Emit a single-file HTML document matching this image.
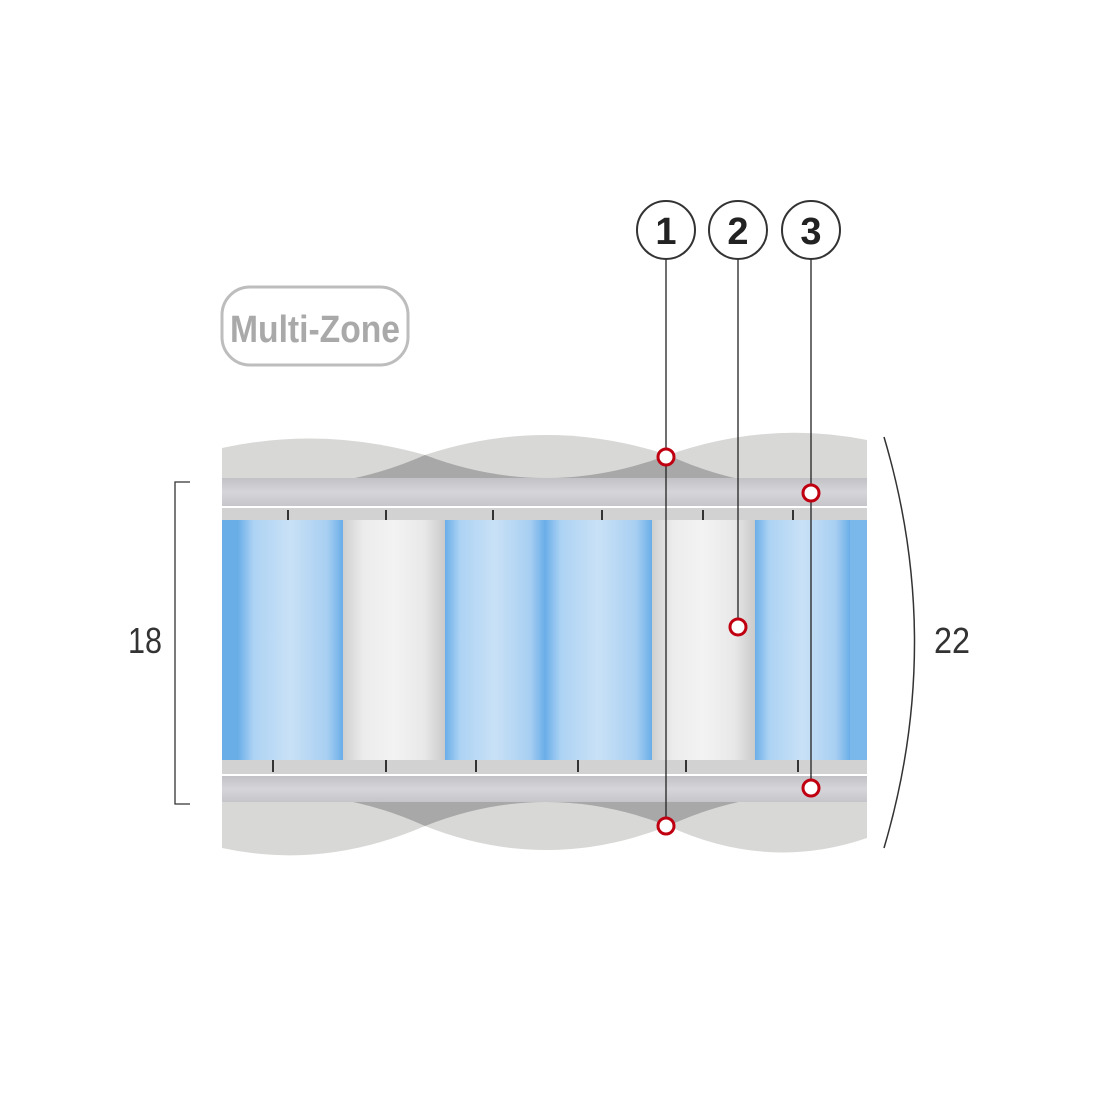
<!DOCTYPE html>
<html><head><meta charset="utf-8"><style>
html,body{margin:0;padding:0;background:#fff}
svg{display:block}
</style></head><body>
<svg width="1100" height="1100" viewBox="0 0 1100 1100" xmlns="http://www.w3.org/2000/svg">
<defs>
<linearGradient id="blue" x1="0" x2="1" y1="0" y2="0">
<stop offset="0" stop-color="#6aaee8"/><stop offset="0.15" stop-color="#add3f4"/><stop offset="0.5" stop-color="#c9e1f6"/><stop offset="0.85" stop-color="#a8cff2"/><stop offset="1" stop-color="#6aaee8"/>
</linearGradient>
<linearGradient id="white" x1="0" x2="1" y1="0" y2="0">
<stop offset="0" stop-color="#cfcfcf"/><stop offset="0.2" stop-color="#ececec"/><stop offset="0.5" stop-color="#f3f3f3"/><stop offset="0.8" stop-color="#e8e8e8"/><stop offset="1" stop-color="#cacaca"/>
</linearGradient>
<linearGradient id="felt" x1="0" x2="0" y1="0" y2="1">
<stop offset="0" stop-color="#c2c2c6"/><stop offset="0.5" stop-color="#d6d6da"/><stop offset="1" stop-color="#c6c6ca"/>
</linearGradient>
</defs>
<rect x="222" y="287" width="186" height="78" rx="28" fill="#fff" stroke="#bdbdbd" stroke-width="3"/>
<text x="315" y="342" text-anchor="middle" font-family="Liberation Sans, sans-serif" font-weight="bold" font-size="38" fill="#a9a9a9" textLength="170" lengthAdjust="spacingAndGlyphs">Multi-Zone</text>

<!-- top pillows -->
<rect x="222" y="455" width="645" height="24" fill="#a8a8a8"/>
<path d="M222,448 Q323,426 425,455 Q323,500 222,478 Z" fill="#d8d8d6"/>
<path d="M425,455 Q546,415 668,455 Q546,501 425,455 Z" fill="#d8d8d6"/>
<path d="M668,455 Q768,420 867,440 L867,478 Q768,501 668,455 Z" fill="#d8d8d6"/>
<rect x="222" y="478" width="645" height="28" fill="url(#felt)"/>
<rect x="222" y="506" width="645" height="2" fill="#fff"/>
<rect x="222" y="508" width="645" height="12" fill="#d2d2d2"/>

<rect x="222" y="520" width="16" height="240" fill="#6aaee8"/>
<rect x="238" y="520" width="105" height="240" fill="url(#blue)"/>
<rect x="343" y="520" width="102" height="240" fill="url(#white)"/>
<rect x="445" y="520" width="100" height="240" fill="url(#blue)"/>
<rect x="545" y="520" width="107" height="240" fill="url(#blue)"/>
<rect x="652" y="520" width="103" height="240" fill="url(#white)"/>
<rect x="755" y="520" width="95" height="240" fill="url(#blue)"/>
<rect x="850" y="520" width="17" height="240" fill="#7ab8ec"/>

<!-- bottom pillows (drawn before felt) -->
<rect x="222" y="802" width="645" height="24" fill="#a8a8a8"/>
<path d="M222,802 Q323,780 425,826 Q323,870 222,848 Z" fill="#d8d8d6"/>
<path d="M425,826 Q546,778 668,826 Q546,874 425,826 Z" fill="#d8d8d6"/>
<path d="M668,826 Q768,780 867,802 L867,838 Q768,872 668,826 Z" fill="#d8d8d6"/>

<rect x="222" y="760" width="645" height="14" fill="#d2d2d2"/>
<rect x="222" y="774" width="645" height="2" fill="#fff"/>
<rect x="222" y="776" width="645" height="26" fill="url(#felt)"/>
<g stroke="#333" stroke-width="2" fill="none">
<path d="M288,510 v10"/><path d="M386,510 v10"/><path d="M493,510 v10"/><path d="M602,510 v10"/><path d="M703,510 v10"/><path d="M793,510 v10"/>
<path d="M273,760 v12"/><path d="M386,760 v12"/><path d="M476,760 v12"/><path d="M578,760 v12"/><path d="M686,760 v12"/><path d="M798,760 v12"/>
</g>

<g stroke="#222" stroke-width="1.3">
<line x1="666" y1="259" x2="666" y2="826"/>
<line x1="738" y1="259" x2="738" y2="627"/>
<line x1="811" y1="259" x2="811" y2="788"/>
</g>
<g fill="#fff" stroke="#c00010" stroke-width="3">
<circle cx="666" cy="457" r="8"/><circle cx="811" cy="493" r="8"/><circle cx="738" cy="627" r="8"/><circle cx="811" cy="788" r="8"/><circle cx="666" cy="826" r="8"/>
</g>
<g fill="#fff" stroke="#333" stroke-width="2">
<circle cx="666" cy="230" r="29"/><circle cx="738" cy="230" r="29"/><circle cx="811" cy="230" r="29"/>
</g>
<g font-family="Liberation Sans, sans-serif" font-weight="bold" font-size="38" fill="#222" text-anchor="middle">
<text x="666" y="244">1</text><text x="738" y="244">2</text><text x="811" y="244">3</text>
</g>

<path d="M190,482 H175 V804 H190" fill="none" stroke="#333" stroke-width="1.3"/>
<text x="145" y="653" text-anchor="middle" font-family="Liberation Sans, sans-serif" font-size="36" fill="#333" textLength="34" lengthAdjust="spacingAndGlyphs">18</text>
<path d="M884,437 Q945,642 884,848" fill="none" stroke="#333" stroke-width="1.5"/>
<text x="952" y="653" text-anchor="middle" font-family="Liberation Sans, sans-serif" font-size="36" fill="#333" textLength="36" lengthAdjust="spacingAndGlyphs">22</text>
</svg>
</body></html>
